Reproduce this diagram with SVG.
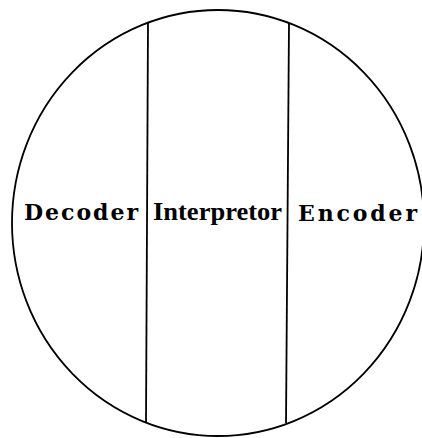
<svg xmlns="http://www.w3.org/2000/svg" width="422" height="438" viewBox="0 0 422 438">
<style>
.ln{fill:none;stroke:#000;stroke-width:1.8}
.t{font-family:"DejaVu Serif","Liberation Serif",serif;font-weight:bold;fill:#000;font-size:22px}
.ti{font-family:"Liberation Serif","Times New Roman",serif;font-weight:bold;fill:#000;font-size:25px}
</style>
<rect width="422" height="438" fill="#fff"/>
<g id="outline">
<ellipse class="ln" cx="218" cy="223" rx="206" ry="213"/>
</g>
<g id="connectors">
<line class="ln" x1="148" y1="23" x2="146" y2="423"/>
<line class="ln" x1="289" y1="23" x2="286" y2="423"/>
</g>
<g id="decoder">
<text class="t" x="24" y="220" textLength="114" lengthAdjust="spacing">Decoder</text>
</g>
<g id="interpretor">
<text class="ti" x="153" y="220" textLength="129" lengthAdjust="spacingAndGlyphs">Interpretor</text>
</g>
<g id="encoder">
<text class="t" x="298" y="221" textLength="119" lengthAdjust="spacing">Encoder</text>
</g>
</svg>
